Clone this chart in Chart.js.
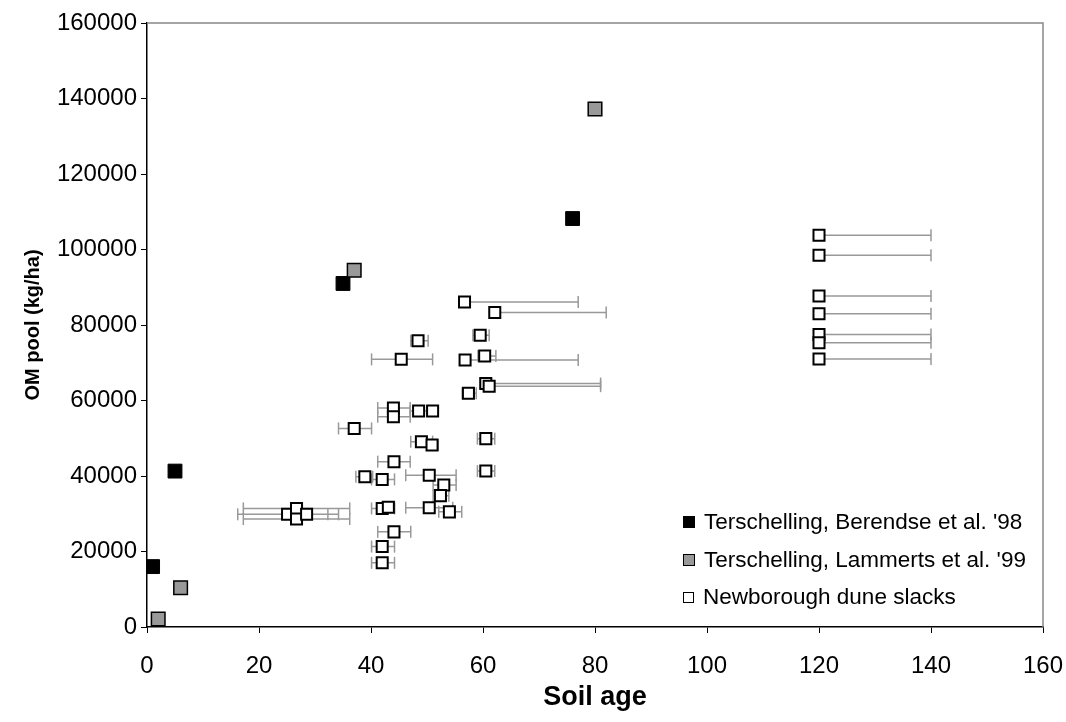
<!DOCTYPE html>
<html>
<head>
<meta charset="utf-8">
<script src="https://cdn.jsdelivr.net/npm/chart.js@4"></script>
<style>
  body { margin: 0; background: #fff; }
  #wrap { position: relative; width: 1066px; height: 722px; }
  .leg { position: absolute; left: 683px; font-family: "Liberation Sans", Arial, sans-serif; font-size: 22.5px; color: #000; white-space: nowrap; }
  .leg span.box { display: inline-block; width: 10px; height: 10px; border: 1px solid #000; margin-right: 9px; vertical-align: 1px; }
</style>
</head>
<body>
<div id="wrap">
  <canvas id="dataChart"></canvas>
  <div class="leg" style="top:509px"><span class="box" style="background:#000"></span>Terschelling, Berendse et al. '98</div>
  <div class="leg" style="top:547px"><span class="box" style="background:#999"></span>Terschelling, Lammerts et al. '99</div>
  <div class="leg" style="top:584px"><span class="box" style="background:#fff;width:9px;height:9px"></span>Newborough dune slacks</div>
</div>
<script>
// Terschelling, Berendse et al. '98
const berendseAge = [1, 5, 35, 76];
const berendseOM = [16000, 41300, 91000, 108200];

// Terschelling, Lammerts et al. '99
const lammertsAge = [2, 6, 37, 80];
const lammertsOM = [2100, 10400, 94500, 137200];

// Newborough dune slacks, with soil age range (lo/hi)
const newAge = [120, 120, 120, 120, 120, 120, 120, 56.7, 62.1, 59.5, 48.4, 45.4, 56.8, 60.3, 60.5, 61.1,
  57.4, 44, 44, 48.5, 51, 37, 49, 50.9, 60.5, 44.1, 60.5, 38.9, 42, 50.4, 53, 52.4, 42, 43.1, 50.4, 54,
  44.1, 42, 42, 25.1, 26.7, 26.7, 28.5];
const newOM = [103800, 98500, 87700, 83000, 77500, 75300, 71000, 86100, 83300, 77300, 75800, 70900, 70700, 71800, 64500, 63800,
  61900, 58000, 55700, 57200, 57200, 52600, 49100, 48200, 49900, 43800, 41300, 39800, 39100, 40200, 37600, 34800, 31400, 31700, 31600, 30500,
  25200, 21300, 17000, 29850, 31400, 28600, 29850];
const newAgeLo = [120, 120, 120, 120, 120, 120, 120, 56.7, 62.1, 58.2, 47.1, 40.1, 56.8, 59.1, 59.5, 61.1,
  56.3, 41.2, 41.2, 47, 50.2, 34.2, 47.1, 50, 59, 41.2, 59, 37.3, 40.1, 46.2, 51.1, 51.1, 40.1, 42, 46.2, 52.1,
  41.2, 40.1, 40.1, 16.2, 17.2, 17.2, 24.7];
const newAgeHi = [140, 140, 140, 140, 140, 140, 140, 77, 82, 61.1, 50.2, 51, 77, 62.3, 81, 81,
  58.8, 47, 47, 50, 51.7, 40.1, 51, 52, 62.1, 47, 62.1, 40.3, 44.2, 55.2, 55.2, 53.9, 44.2, 44.2, 54.6, 56.2,
  47.1, 44.2, 44.2, 34.2, 36.2, 36.2, 32.3];

const xTicks = [0, 20, 40, 60, 80, 100, 120, 140, 160];
const yTicks = [0, 20000, 40000, 60000, 80000, 100000, 120000, 140000, 160000];

const toPts = (xs, ys) => xs.map((x, i) => ({x: x, y: ys[i]}));

// error bars: one broken line, segments separated by null points
const errPts = [];
newAge.forEach((a, i) => {
    errPts.push({x: newAgeLo[i], y: newOM[i]});
    errPts.push({x: newAgeHi[i], y: newOM[i]});
    errPts.push({x: newAgeHi[i], y: null});
});

// gray frame on top and right of plot area
const frame = {
    id: 'frame',
    beforeDatasetsDraw(chart) {
        const {ctx, chartArea: a} = chart;
        ctx.save();
        ctx.strokeStyle = '#888';
        ctx.lineWidth = 1.5;
        ctx.beginPath();
        ctx.moveTo(a.left, a.top);
        ctx.lineTo(a.right, a.top);
        ctx.lineTo(a.right, a.bottom);
        ctx.stroke();
        ctx.restore();
    }
};

const font = "'Liberation Sans', Arial, sans-serif";
const ctx = document.getElementById('dataChart').getContext('2d');

new Chart(ctx, {
    type: 'scatter',
    data: {
        datasets: [{
            label: 'Newborough dune slacks',
            data: toPts(newAge, newOM),
            pointStyle: 'rect',
            pointRadius: 7.8,
            pointBackgroundColor: '#fff',
            pointBorderColor: '#000',
            pointBorderWidth: 2,
            order: 1
        }, {
            label: "Terschelling, Lammerts et al. '99",
            data: toPts(lammertsAge, lammertsOM),
            pointStyle: 'rect',
            pointRadius: 9.6,
            pointBackgroundColor: '#999',
            pointBorderColor: '#000',
            pointBorderWidth: 1.5,
            order: 0
        }, {
            label: "Terschelling, Berendse et al. '98",
            data: toPts(berendseAge, berendseOM),
            pointStyle: 'rect',
            pointRadius: 9.8,
            pointBackgroundColor: '#000',
            pointBorderColor: '#000',
            pointBorderWidth: 1,
            order: 0
        }, {
            label: 'error',
            data: errPts,
            showLine: true,
            spanGaps: false,
            borderColor: '#999',
            borderWidth: 1.5,
            pointStyle: 'line',
            rotation: 90,
            pointRadius: 6,
            pointBorderColor: '#999',
            pointBorderWidth: 1.5,
            order: 2
        }]
    },
    options: {
        responsive: true,
        maintainAspectRatio: false,
        animation: false,
        layout: { padding: { left: 0, top: 23, right: 23, bottom: 0 } },
        plugins: {
            legend: { display: false },
            tooltip: { enabled: false }
        },
        scales: {
            x: {
                type: 'linear',
                min: 0,
                max: 160,
                afterFit(scale) { scale.height = 95; scale.paddingLeft = 0; scale.paddingRight = 0; },
                afterBuildTicks(scale) { scale.ticks = xTicks.map(v => ({value: v})); },
                ticks: { color: '#000', font: { family: font, size: 24 }, padding: 19, maxRotation: 0 },
                grid: { drawOnChartArea: false, drawTicks: true, tickLength: 6, color: '#000' },
                border: { color: '#000', width: 1.5 },
                title: { display: true, text: 'Soil age', color: '#000', font: { family: font, size: 27, weight: 'bold' }, padding: { top: 0, bottom: 8 } }
            },
            y: {
                type: 'linear',
                min: 0,
                max: 160000,
                afterFit(scale) { scale.width = 147; scale.paddingTop = 0; scale.paddingBottom = 0; },
                afterBuildTicks(scale) { scale.ticks = yTicks.map(v => ({value: v})); },
                ticks: { color: '#000', font: { family: font, size: 24 }, padding: 4, callback: v => String(v) },
                grid: { drawOnChartArea: false, drawTicks: true, tickLength: 6, color: '#000' },
                border: { color: '#000', width: 1.5 },
                title: { display: true, text: 'OM pool (kg/ha)', color: '#000', font: { family: font, size: 20, weight: 'bold' }, padding: { top: 21, bottom: 0 } }
            }
        }
    },
    plugins: [frame]
});
</script>
</body>
</html>
